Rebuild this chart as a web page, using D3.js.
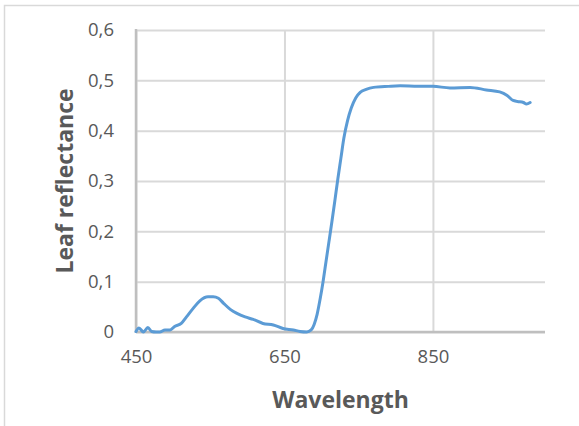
<!DOCTYPE html>
<html>
<head>
<meta charset="utf-8">
<script src="https://cdn.jsdelivr.net/npm/d3@7/dist/d3.min.js"></script>
<style>
  html, body { margin: 0; padding: 0; background: #fff; }
  svg { display: block; }
</style>
</head>
<body>
<svg id="chart" width="579" height="426"></svg>
<script>
// ---- data ----
const wavelengths = [450, 454, 460, 466, 471, 477, 482, 489, 496, 502, 511, 518, 527, 536, 547, 554, 561, 568, 577, 586, 597, 608, 621, 635, 648, 662, 671, 680, 686, 690, 694, 698, 702, 706, 710, 714, 718, 722, 726, 730, 735, 740, 746, 752, 760, 770, 790, 806, 830, 850, 873, 900, 922, 940, 950, 958, 964, 972, 976, 981];
const reflectance = [0.001, 0.008, 0.000, 0.009, 0.001, 0.000, 0.000, 0.004, 0.004, 0.011, 0.017, 0.030, 0.047, 0.062, 0.070, 0.070, 0.067, 0.057, 0.045, 0.037, 0.030, 0.025, 0.017, 0.014, 0.007, 0.004, 0.001, 0.000, 0.004, 0.015, 0.035, 0.065, 0.100, 0.140, 0.180, 0.220, 0.262, 0.305, 0.345, 0.385, 0.420, 0.445, 0.465, 0.476, 0.482, 0.486, 0.488, 0.489, 0.488, 0.488, 0.485, 0.486, 0.481, 0.477, 0.470, 0.460, 0.458, 0.456, 0.453, 0.456];
const xTicks = [450, 650, 850];
const yTicks = [0, 0.1, 0.2, 0.3, 0.4, 0.5, 0.6];
const xTitle = "Wavelength";
const yTitle = "Leaf reflectance";

const data = wavelengths.map((w, i) => ({ w, r: reflectance[i] }));

const svg = d3.select("#chart");
const plot = { left: 136, right: 545, top: 30, bottom: 332 };

// outer frame
svg.append("rect")
  .attr("x", 4.5).attr("y", 5.5)
  .attr("width", 600).attr("height", 500)
  .attr("fill", "none").attr("stroke", "#D9D9D9").attr("stroke-width", 1.5);

const x = d3.scaleLinear().domain([450, 1001]).range([plot.left, plot.right]);
const y = d3.scaleLinear().domain([0, 0.6]).range([plot.bottom, plot.top]);

const fmt = d => (d === 0 ? "0" : d3.format(".1f")(d).replace(".", ","));

// horizontal gridlines
const yAxis = d3.axisLeft(y).tickValues(yTicks).tickSize(-(plot.right - plot.left)).tickFormat(fmt).tickPadding(22);
const gy = svg.append("g").attr("transform", `translate(${plot.left},0)`).call(yAxis);
gy.select(".domain").remove();
gy.selectAll(".tick line").attr("stroke", "#D9D9D9").attr("stroke-width", 2);
gy.selectAll(".tick text")
  .attr("fill", "#595959")
  .style("font-family", "'Open Sans', sans-serif")
  .style("font-size", "18.5px");

// vertical gridlines + x labels
const xAxis = d3.axisBottom(x).tickValues(xTicks).tickSize(-(plot.bottom - plot.top)).tickFormat(d3.format("d")).tickPadding(18);
const gx = svg.append("g").attr("transform", `translate(0,${plot.bottom})`).call(xAxis);
gx.select(".domain").remove();
gx.selectAll(".tick line").attr("stroke", "#D9D9D9").attr("stroke-width", 2);
gx.selectAll(".tick text")
  .attr("fill", "#595959")
  .style("font-family", "'Open Sans', sans-serif")
  .style("font-size", "18.5px");

// axis lines
svg.append("line")
  .attr("x1", plot.left).attr("x2", plot.left)
  .attr("y1", plot.top - 1).attr("y2", plot.bottom + 1)
  .attr("stroke", "#BFBFBF").attr("stroke-width", 2.5);
svg.append("line")
  .attr("x1", plot.left).attr("x2", plot.right)
  .attr("y1", plot.bottom).attr("y2", plot.bottom)
  .attr("stroke", "#BFBFBF").attr("stroke-width", 2.5);

// line
const line = d3.line().x(d => x(d.w)).y(d => y(d.r)).curve(d3.curveMonotoneX);
svg.append("path")
  .datum(data)
  .attr("d", line)
  .attr("fill", "none")
  .attr("stroke", "#5B9BD5")
  .attr("stroke-width", 3)
  .attr("stroke-linejoin", "round")
  .attr("stroke-linecap", "round");

// titles
svg.append("text")
  .attr("x", (plot.left + plot.right) / 2).attr("y", 408)
  .attr("text-anchor", "middle")
  .attr("fill", "#595959")
  .style("font-family", "'Open Sans', sans-serif")
  .style("font-weight", "bold")
  .style("font-size", "23px")
  .text(xTitle);

svg.append("text")
  .attr("transform", `translate(73,${(plot.top + plot.bottom) / 2}) rotate(-90)`)
  .attr("text-anchor", "middle")
  .attr("fill", "#595959")
  .style("font-family", "'Open Sans', sans-serif")
  .style("font-weight", "bold")
  .style("font-size", "23px")
  .text(yTitle);
</script>
</body>
</html>
